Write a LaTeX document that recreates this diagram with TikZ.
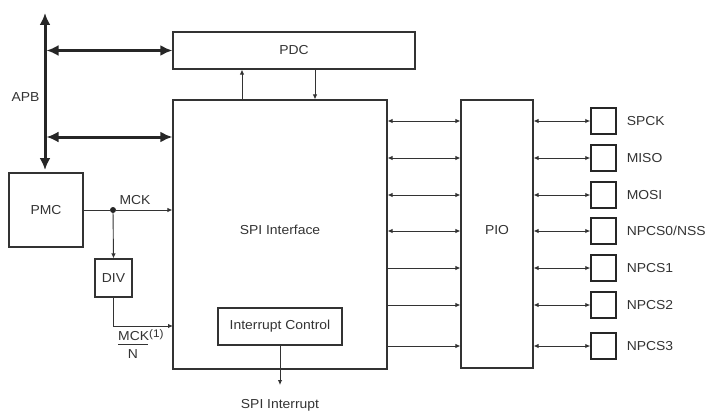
\documentclass[tikz,border=0pt]{standalone}
\usepackage{fontspec}
\setmainfont{Liberation Sans}[FakeStretch=1.07]
\usetikzlibrary{arrows.meta}
\begin{document}
\begin{tikzpicture}
[x=1pt,y=-1pt,
  font=\fontsize{13}{15}\selectfont,text=black!80,
  blockdecorate/.style={draw=black!80,line width=1.2pt,inner sep=0pt},%
  pindecorate/.style={draw=black!85,line width=1.5pt,minimum width=25pt,minimum height=26pt,inner sep=0pt},%
  wiredecorate/.style={draw=black!80,line width=0.9pt},%
  linedecorate/.style={wiredecorate,-{Latex[length=5pt,width=4.5pt]}},%
  bothdecorate/.style={wiredecorate,{Latex[length=5pt,width=4.5pt]}-{Latex[length=5pt,width=4.5pt]}},%
  busdecorate/.style={draw=black!85,line width=3pt,{Latex[length=12pt,width=11pt]}-{Latex[length=12pt,width=11pt]}}]
\useasboundingbox (0,0) rectangle (707,412);
% blocks
\node (PDC) at (294,50.5) [blockdecorate,minimum width=242pt,minimum height=37pt] {PDC};
\node (SPI) at (280,234.5) [blockdecorate,minimum width=214pt,minimum height=269pt] {};
\node (SPIlbl) at (280,230) {SPI Interface};
\node (PIO) at (497,234) [blockdecorate,minimum width=72pt,minimum height=268pt] {};
\node (PIOlbl) at (497,230) {PIO};
\node (PMC) at (46,210) [blockdecorate,minimum width=74pt,minimum height=74pt] {PMC};
\node (DIV) at (113.5,278) [blockdecorate,minimum width=37pt,minimum height=38pt] {DIV};
\node (IRQ) at (280,326.5) [blockdecorate,minimum width=124pt,minimum height=37pt] {Interrupt Control};
% pins
\foreach \n/\y/\t in {1/121/SPCK,2/158/MISO,3/195/MOSI,4/231/{NPCS0/NSS},5/268/NPCS1,6/305/NPCS2,7/346/NPCS3}{
  \node (pin\n) at (603.5,\y) [pindecorate] {};
  \node (lbl\n) [right] at ([xshift=6.5pt]pin\n.east) {\t};
  \path (PIO.east |- pin\n) edge[bothdecorate] (pin\n.west);
}
\foreach \n in {1,2,3,4}
  \path (SPI.east |- pin\n) edge[bothdecorate] (PIO.west |- pin\n);
\foreach \n in {5,6,7}
  \path (SPI.east |- pin\n) edge[linedecorate] (PIO.west |- pin\n);
% APB bus
\coordinate (APBtop) at (45,13);
\coordinate (APBbot) at (45,170);
\coordinate (APBspi) at (45,137);
\draw[busdecorate] (APBtop) -- (APBbot);
\draw[busdecorate,shorten <=1.5pt] (APBtop |- PDC.west) -- (PDC.west);
\draw[busdecorate,shorten <=1.5pt] (APBspi) -- (SPI.west |- APBspi);
\node (APB) [left] at (43,97) {APB};
% PDC transfers
\coordinate (PDCin) at (242,0);
\coordinate (PDCout) at (315,0);
\draw[linedecorate] (SPI.north -| PDCin) -- (PDC.south -| PDCin);
\draw[linedecorate] (PDC.south -| PDCout) -- (SPI.north -| PDCout);
% clocks
\node (dot) at (113,210) [circle,fill=black!85,inner sep=0pt,minimum size=6pt] {};
\path (PMC.east) edge[wiredecorate] (dot);
\draw[linedecorate] (dot) -- (SPI.west |- dot);
\draw[linedecorate] (dot) -- (DIV.north);
\node (MCK) at (135,200) {MCK};
\coordinate (MCKN) at (173,326);
\draw[linedecorate] (DIV.south) |- (MCKN);
\node (MCKdiv) [right,inner sep=0pt] at (118,335) {MCK\raisebox{3pt}{\fontsize{11}{13}\selectfont(1)}};
\draw[wiredecorate] (118,344) -- (148,344);
\node (N) at (133,354) {N};
% interrupt
\coordinate (IRQout) at (280,385);
\draw[linedecorate] (IRQ) -- (IRQout);
\node (IRQlbl) at (280,405) {SPI Interrupt};
\end{tikzpicture}
\end{document}
